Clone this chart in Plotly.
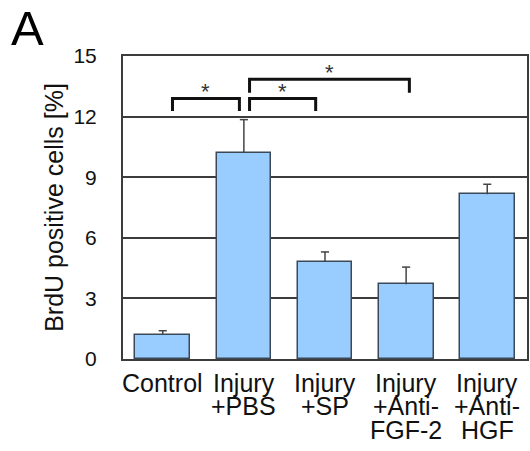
import plotly.graph_objects as go

# Groups, means and upper error (SEM) of BrdU-positive cells [%]
categories = ["Control", "Injury +PBS", "Injury +SP", "Injury +Anti-FGF-2", "Injury +Anti-HGF"]
label_lines = [["Control"], ["Injury", "+PBS"], ["Injury", "+SP"],
               ["Injury", "+Anti-", "FGF-2"], ["Injury", "+Anti-", "HGF"]]
means = [1.2, 10.2, 4.8, 3.7, 8.15]
errors = [0.2, 1.65, 0.5, 0.85, 0.5]
y_ticks = [0, 3, 6, 9, 12, 15]

# Significance comparisons: (left x, right x, bar level, leg bottom)
comparisons = [
    (0.12, 0.945, 12.9, 12.28),
    (1.07, 1.885, 12.9, 12.28),
    (1.07, 3.04, 13.85, 13.18),
]

FONT = "Liberation Sans, Arial, sans-serif"
LINE = "#3c3c3c"

W, H = 530, 451
L, R, T, B = 123, 1, 56, 92
plot_h = H - T - B
plot_w = W - L - R

xs = list(range(len(categories)))

fig = go.Figure()
fig.add_trace(go.Bar(
    x=xs,
    y=means,
    hovertext=categories,
    width=0.675,
    marker=dict(color="#99ccff", line=dict(color="#3a4858", width=1.5)),
))

# upward-only error whiskers with a cap at the top
CAP = 0.05
wx, wy = [], []
for x, m, e in zip(xs, means, errors):
    wx += [x, x, None, x - CAP, x + CAP, None]
    wy += [m, m + e, None, m + e, m + e, None]
fig.add_trace(go.Scatter(x=wx, y=wy, mode="lines", hoverinfo="skip",
                         line=dict(color="#444444", width=1.5)))

# brackets and stars
for x0, x1, yb, yl in comparisons:
    fig.add_shape(type="path", xref="x", yref="y",
                  path=f"M {x0},{yl} L {x0},{yb} L {x1},{yb} L {x1},{yl}",
                  line=dict(color="#111111", width=3))
    fig.add_annotation(x=(x0 + x1) / 2, y=yb, xref="x", yref="y",
                       text="*", showarrow=False, yanchor="bottom", yshift=-8,
                       font=dict(family=FONT, size=22, color="#333333"))

# multi-line category labels under each bar
LINE_STEP = 23.5
for i, lines in enumerate(label_lines):
    for j, txt in enumerate(lines):
        center_px = 382.5 + j * LINE_STEP
        fig.add_annotation(x=i, xref="x", yref="paper",
                           y=(H - B - center_px) / plot_h, yanchor="middle",
                           text=txt, showarrow=False,
                           font=dict(family=FONT, size=25, color="#111111"))

# axis title
fig.add_annotation(xref="paper", yref="paper", x=(53 - L) / plot_w, y=0.5,
                   text="BrdU positive cells [%]", textangle=-90, showarrow=False,
                   xanchor="center", yanchor="middle",
                   font=dict(family=FONT, size=25, color="#111111"))

# panel letter
fig.add_annotation(xref="paper", yref="paper", x=(8 - L) / plot_w,
                   y=(H - B - 8) / plot_h, xanchor="left", yanchor="top",
                   yshift=9, text="A", showarrow=False,
                   font=dict(family=FONT, size=49, color="#000000"))

fig.update_layout(
    width=W, height=H,
    margin=dict(l=L, r=R, t=T, b=B, pad=0),
    paper_bgcolor="white", plot_bgcolor="white",
    showlegend=False, bargap=0,
    font=dict(family=FONT, color="#111111"),
)
fig.update_xaxes(range=[-0.49, 4.49], showticklabels=False, showgrid=False,
                 zeroline=False, showline=True, mirror=True,
                 linecolor=LINE, linewidth=2, ticks="")
fig.update_yaxes(range=[0, 15], tickvals=y_ticks, showgrid=True,
                 gridcolor=LINE, gridwidth=1.5, zeroline=False,
                 showline=True, mirror=True, linecolor=LINE, linewidth=2,
                 ticks="", ticklabelstandoff=20,
                 tickfont=dict(family=FONT, size=21, color="#111111"))

fig.write_html("out.html")
